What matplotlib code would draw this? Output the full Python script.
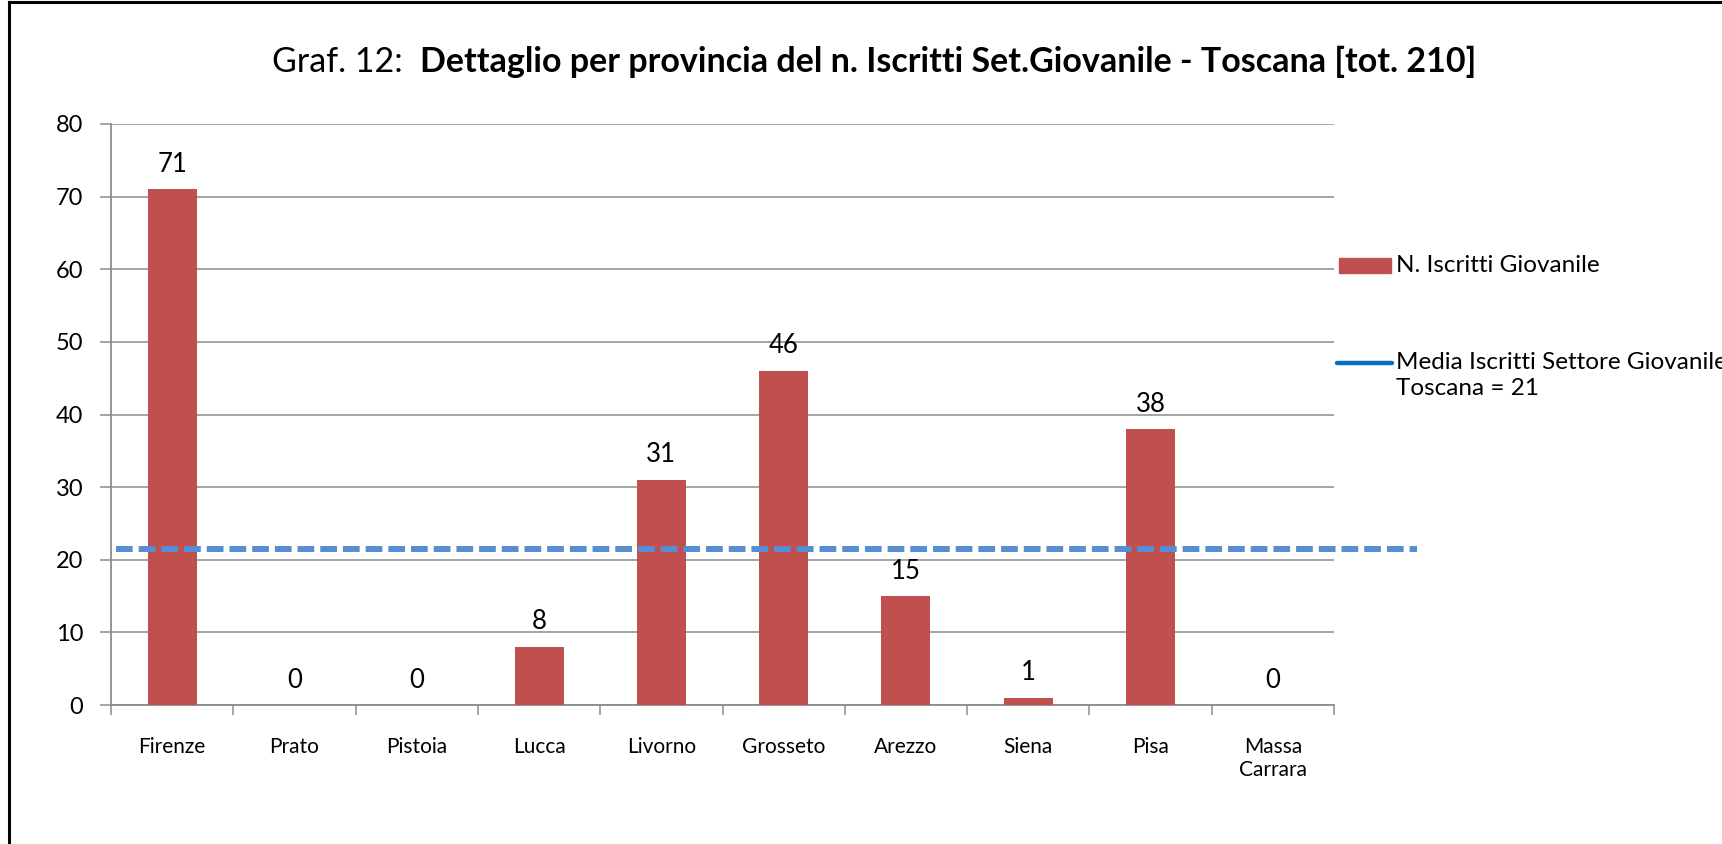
import matplotlib
matplotlib.use("Agg")
import matplotlib.pyplot as plt
from matplotlib.lines import Line2D
from matplotlib.patches import Rectangle

plt.rcParams['font.family'] = ['Lato', 'DejaVu Sans']

province = ["Firenze", "Prato", "Pistoia", "Lucca", "Livorno",
            "Grosseto", "Arezzo", "Siena", "Pisa", "Massa\nCarrara"]
iscritti = [71, 0, 0, 8, 31, 46, 15, 1, 38, 0]
media_linea = 21.5          # position of the dashed mean line
media_label = 21
y_ticks = [0, 10, 20, 30, 40, 50, 60, 70, 80]
title_regular = "Graf. 12:  "
title_bold = "Dettaglio per provincia del n. Iscritti Set.Giovanile - Toscana [tot. 210]"
legend_bar = "N. Iscritti Giovanile"
legend_line = "Media Iscritti Settore Giovanile\nToscana = 21"

W, H = 1722, 844
fig = plt.figure(figsize=(W / 100, H / 100), dpi=100)
fig.patch.set_facecolor("white")

def fx(px):
    return px / W

def fy(py):
    return 1 - py / H

ax = fig.add_axes([fx(111), fy(705), fx(1334) - fx(111), fy(124) - fy(705)])

BAR = "#C0504D"
GRID = "#8C8C8C"
FS = 15

x = list(range(len(province)))
ax.bar(x, iscritti, width=0.4, color=BAR, zorder=3)
ax.set_xlim(-0.5, len(province) - 0.5)
ax.set_ylim(0, 80)
ax.set_yticks(y_ticks)
ax.yaxis.grid(True, color=GRID, linewidth=1.1, zorder=0)
ax.set_axisbelow(True)

# category labels between tick marks
ax.set_xticks([i + 0.5 for i in range(-1, len(province))])
ax.set_xticklabels([])
ax.set_xticks(x, minor=True)
ax.set_xticklabels(province, minor=True, fontsize=FS)
ax.tick_params(axis="x", which="major", direction="out", length=7, width=1.1, color=GRID)
ax.tick_params(axis="x", which="minor", length=0, pad=23)
ax.tick_params(axis="y", direction="out", length=8, width=1.1, color=GRID,
               labelsize=17, pad=12)

for s in ["top", "right"]:
    ax.spines[s].set_visible(False)
for s in ["left", "bottom"]:
    ax.spines[s].set_color(GRID)
    ax.spines[s].set_linewidth(1.3)

for xi, v in zip(x, iscritti):
    ax.annotate(str(v), (xi, v), xytext=(0, 9), textcoords="offset points",
                ha="center", va="bottom", fontsize=18.5, color="black")

# mean line (extends beyond plot area)
ax.axhline(media_linea, xmin=0.004, xmax=1.068, color="#558ED5", linewidth=4.3,
           dashes=(2.8, 1.0), clip_on=False, zorder=4, solid_capstyle="butt",
           dash_capstyle="butt")

# legend (manual)
fig.patches.append(Rectangle((fx(1339), fy(273)), fx(1391) - fx(1339), fy(258) - fy(273),
                             transform=fig.transFigure, color=BAR))
fig.text(fx(1396), fy(265), legend_bar, fontsize=17.5, va="center", ha="left")
fig.lines.append(Line2D([fx(1337), fx(1392)], [fy(363), fy(363)], transform=fig.transFigure,
                        color="#0070C0", linewidth=3.2, solid_capstyle="round"))
fig.text(fx(1396), fy(352), legend_line, fontsize=17.5, va="top", ha="left",
         linespacing=1.3)

# title: regular + bold parts, centered
fig.canvas.draw()
r = fig.canvas.get_renderer()
t1 = fig.text(0, fy(62), title_regular, fontsize=24.5, va="center", ha="left")
t2 = fig.text(0, fy(62), title_bold, fontsize=24.5, va="center", ha="left", fontweight="bold")
w1 = t1.get_window_extent(r).width
w2 = t2.get_window_extent(r).width
start = 874 - (w1 + w2) / 2
t1.set_x(fx(start))
t2.set_x(fx(start + w1))

# chart border (top and left visible)
fig.lines.append(Line2D([fx(9), fx(9)], [0, fy(2)], transform=fig.transFigure,
                        color="black", linewidth=2.2))
fig.lines.append(Line2D([fx(9), 1], [fy(2), fy(2)], transform=fig.transFigure,
                        color="black", linewidth=2.2))

fig.savefig("out.png", dpi=100, facecolor="white")
